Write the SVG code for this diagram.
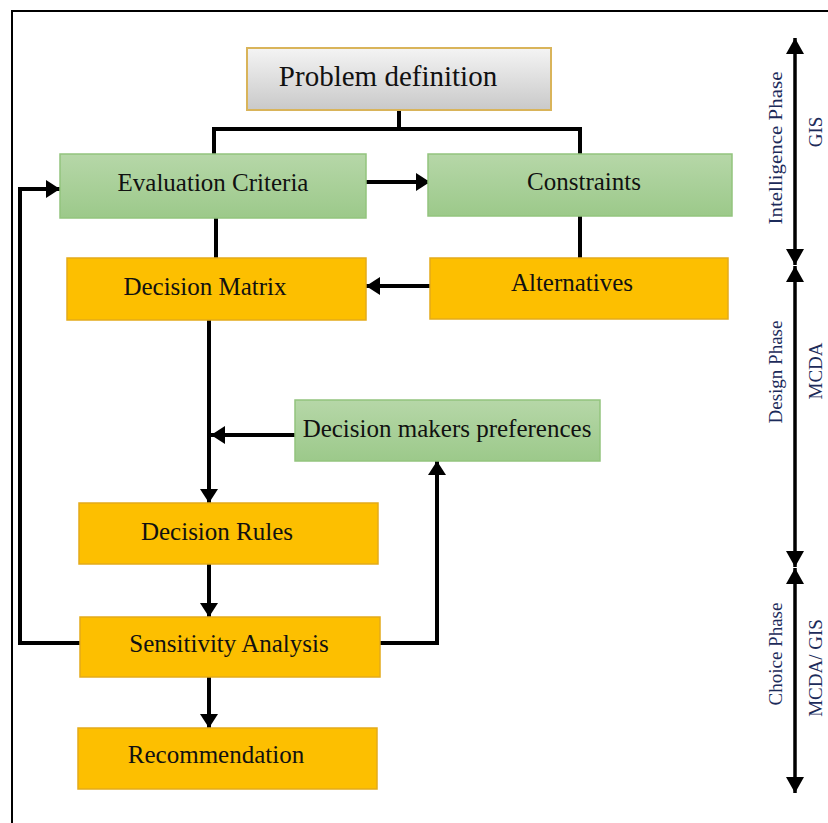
<svg xmlns="http://www.w3.org/2000/svg" width="828" height="823" viewBox="0 0 828 823">
<defs>
<linearGradient id="gGrey" x1="0" y1="0" x2="0" y2="1"><stop offset="0" stop-color="#f4f4f4"/><stop offset="1" stop-color="#c9c9c9"/></linearGradient>
<linearGradient id="gGreen" x1="0" y1="0" x2="0" y2="1"><stop offset="0" stop-color="#b6d7a8"/><stop offset="1" stop-color="#9cc98a"/></linearGradient>
<marker id="ah" viewBox="0 0 14 18" refX="14" refY="9" markerWidth="14" markerHeight="18" markerUnits="userSpaceOnUse" orient="auto"><path d="M0,0 L14,9 L0,18 z" fill="#000"/></marker>
<marker id="ahBig" viewBox="0 0 16 18" refX="16" refY="9" markerWidth="16" markerHeight="18" markerUnits="userSpaceOnUse" orient="auto-start-reverse"><path d="M0,0 L16,9 L0,18 z" fill="#000"/></marker>
</defs>
<style>
.t{font-family:"Liberation Serif","Times New Roman",serif;font-size:25px;fill:#111;}
.orange{fill:#fdbf00;stroke:#e3ab1a;stroke-width:1.5;}
.green{fill:url(#gGreen);stroke:#93c47d;stroke-width:1.5;}
.grey{fill:url(#gGrey);stroke:#d9b45a;stroke-width:2;}
.c{fill:none;stroke:#000;stroke-width:4;}
.ax{fill:none;stroke:#000;stroke-width:3.5;}
.lab{font-family:"Liberation Serif","Times New Roman",serif;font-size:19px;fill:#1c2b5a;}
</style>
<rect width="828" height="823" fill="#fff"/>
<path d="M12,823 V11 H828" fill="none" stroke="#000" stroke-width="2"/>

<g id="connectors">
<path class="c" d="M399,110 V129 M214,129 H580 M214,127 V154 M580,127 V154"/>
<path class="c" d="M216,218 V258"/>
<path class="c" d="M580,216 V258"/>
<path class="c" d="M366,182 H430" marker-end="url(#ah)"/>
<path class="c" d="M430,286 H366" marker-end="url(#ah)"/>
<path class="c" d="M209,320 V503" marker-end="url(#ah)"/>
<path class="c" d="M295,435 H211" marker-end="url(#ah)"/>
<path class="c" d="M209,564 V617" marker-end="url(#ah)"/>
<path class="c" d="M209,677 V728" marker-end="url(#ah)"/>
<path class="c" d="M80,643 H20 V189 H60" marker-end="url(#ah)"/>
<path class="c" d="M380,643 H437 V461" marker-end="url(#ah)"/>
</g>

<g id="phase-axis">
<path class="ax" d="M795,38 V265" marker-start="url(#ahBig)" marker-end="url(#ahBig)"/>
<path class="ax" d="M795,266 V567" marker-start="url(#ahBig)" marker-end="url(#ahBig)"/>
<path class="ax" d="M795,568 V793" marker-start="url(#ahBig)" marker-end="url(#ahBig)"/>
<text class="lab" transform="translate(782,148) rotate(-90)" text-anchor="middle" textLength="153" lengthAdjust="spacingAndGlyphs">Intelligence Phase</text>
<text class="lab" transform="translate(822,132) rotate(-90)" text-anchor="middle">GIS</text>
<text class="lab" transform="translate(782,372) rotate(-90)" text-anchor="middle">Design Phase</text>
<text class="lab" transform="translate(822,371) rotate(-90)" text-anchor="middle">MCDA</text>
<text class="lab" transform="translate(782,654) rotate(-90)" text-anchor="middle">Choice Phase</text>
<text class="lab" transform="translate(822,668) rotate(-90)" text-anchor="middle">MCDA/ GIS</text>
</g>

<g id="problem-definition">
<rect class="grey" x="247" y="48" width="304" height="62"/>
<text class="t" x="388" y="86" text-anchor="middle" style="font-size:29px">Problem definition</text>
</g>
<g id="evaluation-criteria">
<rect class="green" x="60" y="154" width="306" height="64"/>
<text class="t" x="213" y="191" text-anchor="middle">Evaluation Criteria</text>
</g>
<g id="constraints">
<rect class="green" x="428" y="154" width="304" height="62"/>
<text class="t" x="584" y="190" text-anchor="middle">Constraints</text>
</g>
<g id="decision-matrix">
<rect class="orange" x="67" y="258" width="299" height="62"/>
<text class="t" x="205" y="295" text-anchor="middle">Decision Matrix</text>
</g>
<g id="alternatives">
<rect class="orange" x="430" y="258" width="298" height="61"/>
<text class="t" x="572" y="291" text-anchor="middle">Alternatives</text>
</g>
<g id="decision-makers-preferences">
<rect class="green" x="295" y="400" width="305" height="61"/>
<text class="t" x="447" y="437" text-anchor="middle">Decision makers preferences</text>
</g>
<g id="decision-rules">
<rect class="orange" x="79" y="503" width="299" height="61"/>
<text class="t" x="217" y="540" text-anchor="middle">Decision Rules</text>
</g>
<g id="sensitivity-analysis">
<rect class="orange" x="80" y="617" width="300" height="60"/>
<text class="t" x="229" y="652" text-anchor="middle">Sensitivity Analysis</text>
</g>
<g id="recommendation">
<rect class="orange" x="78" y="728" width="299" height="61"/>
<text class="t" x="216" y="763" text-anchor="middle">Recommendation</text>
</g>
</svg>
